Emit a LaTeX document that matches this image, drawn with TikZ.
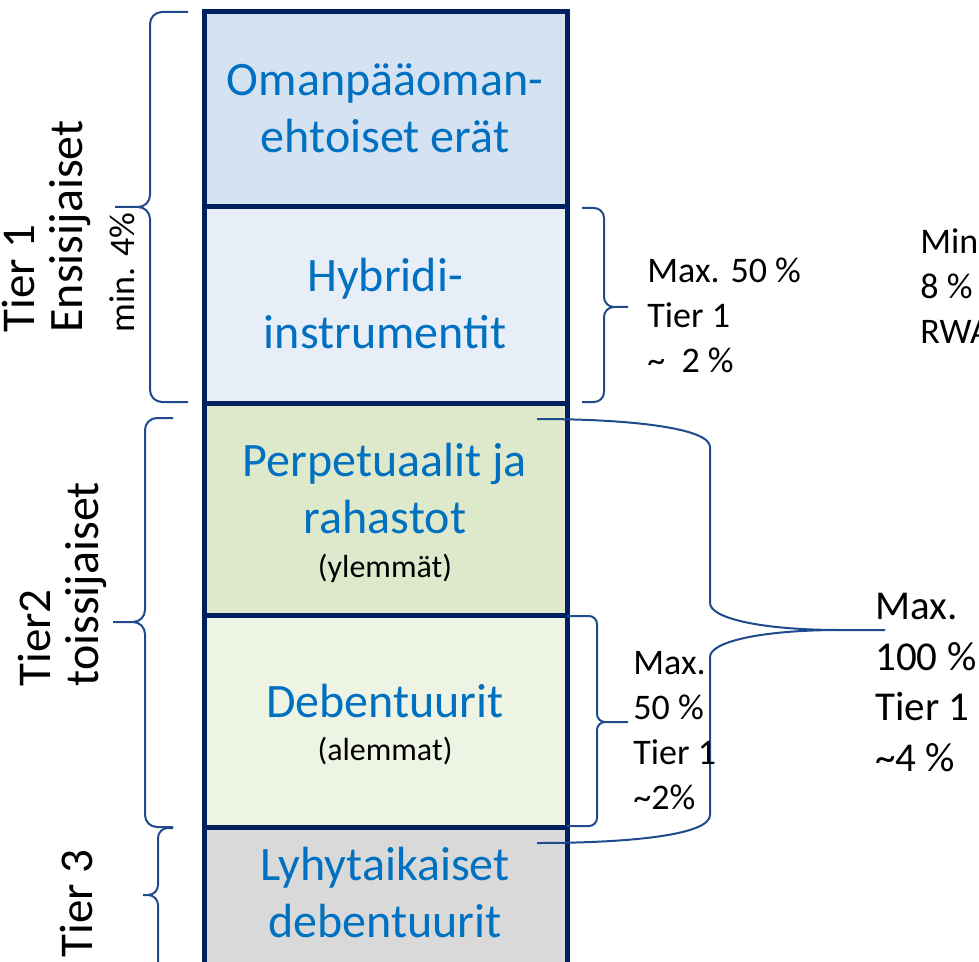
\documentclass[tikz,border=0pt]{standalone}
\usepackage{fontspec}
\setmainfont{Carlito}

\definecolor{navy}{HTML}{002060}
\definecolor{textblue}{HTML}{0070C0}
\definecolor{braceblue}{HTML}{1F4A8C}
\definecolor{equityfill}{HTML}{D5E2F1}
\definecolor{hybridfill}{HTML}{E8EEF8}
\definecolor{perpfill}{HTML}{DEE8CA}
\definecolor{debfill}{HTML}{EEF4E4}
\definecolor{shortfill}{HTML}{D9D9D9}

\tikzset{
  part/.style={draw=navy, line width=2.5pt},
  parttext/.style={text=textblue, font=\fontsize{24}{28.5}\selectfont, align=center, inner sep=0pt},
  subtext/.style={font=\fontsize{16}{19}\selectfont, inner sep=0pt, anchor=base},
  brace/.style={draw=braceblue, line width=1pt},
  note/.style={font=\fontsize{18}{22.5}\selectfont, align=left, inner sep=0pt, anchor=north west},
  sidelabel/.style={rotate=90, anchor=base west, inner sep=0pt},
}

\begin{document}
\begin{tikzpicture}[x=0.5pt, y=-0.5pt]
	\clip (0,0) rectangle (979,962);

	% column
	\draw[part, fill=equityfill] (204,12) rectangle (567,207);
	\draw[part, fill=hybridfill] (204,207) rectangle (567,403);
	\draw[part, fill=perpfill] (204,403) rectangle (567,615);
	\draw[part, fill=debfill] (204,615) rectangle (567,827);
	\draw[part, fill=shortfill] (204,827) rectangle (567,990);

	\node[parttext] (equity) at (385,108) {Omanpääoman-\\ehtoiset erät};
	\node[parttext] (hybrid) at (385,304) {Hybridi-\\instrumentit};
	\node[parttext] (perpetual) at (385,489) {Perpetuaalit ja\\rahastot};
	\node[subtext] (upper) at (385,577) {(ylemmät)};
	\node[parttext, anchor=base] (debenture) at (385,717) {Debentuurit};
	\node[subtext] (lower) at (385,760) {(alemmat)};
	\node[parttext] (short) at (385,893) {Lyhytaikaiset\\debentuurit};

	% left braces
	\draw[brace, rounded corners=6pt] (188,12) -- (150,12) -- (150,207) -- (115,207)
		(115,207) -- (150,207) -- (150,402) -- (188,402);
	\draw[brace, rounded corners=6pt] (173,418) -- (145,418) -- (145,622) -- (113,622)
		(113,622) -- (145,622) -- (145,827) -- (173,827);
	\draw[brace, rounded corners=5pt] (173,828) -- (158,828) -- (158,895) -- (143,895)
		(143,895) -- (158,895) -- (158,985);

	\node[sidelabel, font=\fontsize{23.5}{28}\selectfont] (tierone) at (34,333) {Tier 1};
	\node[sidelabel, font=\fontsize{24}{28}\selectfont] (primary) at (82,333) {Ensisijaiset};
	\node[sidelabel, font=\fontsize{18}{22}\selectfont] (minfour) at (134,333) {min. 4\%};
	\node[sidelabel, font=\fontsize{23.5}{28}\selectfont] (tiertwo) at (50,687) {Tier2};
	\node[sidelabel, font=\fontsize{24}{28}\selectfont] (secondary) at (98,687) {toissijaiset};
	\node[sidelabel, font=\fontsize{23.5}{28}\selectfont] (tierthree) at (92,958) {Tier 3};

	% right braces
	\draw[brace, rounded corners=5pt] (582,208) -- (604,208) -- (604,307) -- (628,307)
		(628,307) -- (604,307) -- (604,402) -- (582,402);
	\draw[brace, rounded corners=4pt] (567,616) -- (597,616) -- (597,722) -- (628,722)
		(628,722) -- (597,722) -- (597,826) -- (567,826);
	\draw[brace] (537,419) .. controls (630,419) and (710,428) .. (710,447) -- (710,603)
		.. controls (710,618) and (760,630) .. (840,630) -- (885,630)
		(885,630) -- (840,630) .. controls (760,630) and (710,642) .. (710,657) -- (710,815)
		.. controls (710,835) and (630,843) .. (537,843);

	\node[note] (hybridmax) at (647,258) {Max. 50 \%\\Tier 1\\\textasciitilde\ \ 2 \%};
	\node[note] (minimum) at (920,228) {Min\\8 \%\\RWA};
	\node[note] (debmax) at (633,651) {Max.\\50 \%\\Tier 1\\\textasciitilde2\%};
	\node[note, font=\fontsize{20.5}{25.3}\selectfont] (tiertwomax) at (875,593) {Max.\\100 \%\\Tier 1\\\textasciitilde4 \%};
\end{tikzpicture}
\end{document}
